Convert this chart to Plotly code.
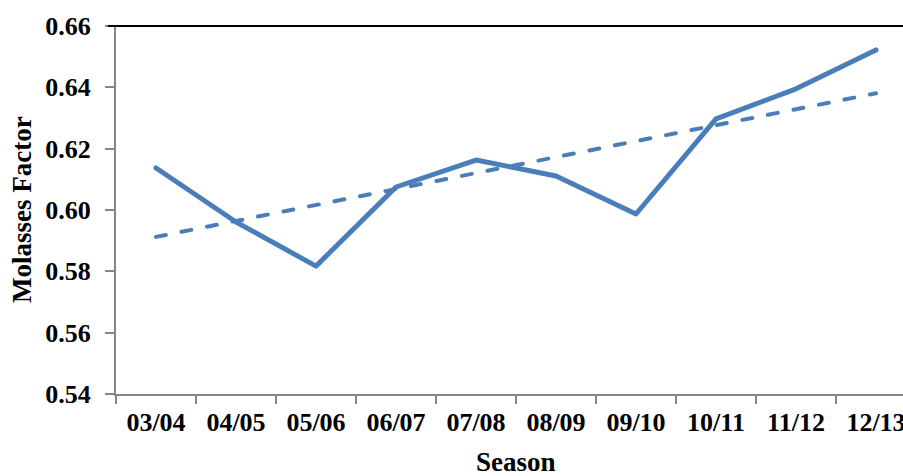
import numpy as np
import plotly.graph_objects as go

seasons = ["03/04", "04/05", "05/06", "06/07", "07/08", "08/09", "09/10", "10/11", "11/12", "12/13"]
molasses_factor = [0.6137, 0.5961, 0.5817, 0.6075, 0.6163, 0.6111, 0.5987, 0.6297, 0.6395, 0.6522]

idx = np.arange(1, len(seasons) + 1)
slope, intercept = np.polyfit(idx, molasses_factor, 1)
trend = list(slope * idx + intercept)

BLUE = "#4A7EBB"
GRAY = "#868686"
FONT = "Liberation Serif"

fig = go.Figure()
fig.add_trace(go.Scatter(x=seasons, y=molasses_factor, mode="lines",
                         line=dict(color=BLUE, width=5), showlegend=False))
fig.add_trace(go.Scatter(x=seasons, y=trend, mode="lines",
                         line=dict(color=BLUE, width=4, dash="10px,16px"), showlegend=False))

W, H = 903, 476
L, T, B, R = 116, 26, 82, 0
plot_w = W - L - R
plot_h = H - T - B
cat_w = 80
x_end = -0.5 + plot_w / cat_w

fig.update_layout(
    width=W, height=H,
    margin=dict(l=L, r=R, t=T, b=B, autoexpand=False),
    paper_bgcolor="white", plot_bgcolor="white",
    font=dict(family=FONT, color="black"),
    xaxis=dict(
        type="category", range=[-0.5, x_end], showgrid=False, zeroline=False,
        showline=True, linecolor=GRAY, linewidth=2,
        ticks="outside", tickson="boundaries", ticklen=8, tickcolor=GRAY, tickwidth=1.5,
        tickfont=dict(family=FONT, size=26, color="black", weight="bold"),
        ticklabelstandoff=4,
    ),
    yaxis=dict(
        range=[0.54, 0.66], dtick=0.02, tick0=0.54, tickformat=".2f",
        showgrid=False, zeroline=False,
        showline=True, linecolor=GRAY, linewidth=2,
        ticks="outside", ticklen=9, tickcolor=GRAY, tickwidth=1.5,
        tickfont=dict(family=FONT, size=26, color="black", weight="bold"),
        ticklabelstandoff=9,
    ),
    annotations=[
        dict(text="<b>Molasses Factor</b>", xref="paper", yref="paper",
             x=-(L - 22) / plot_w, y=0.5, textangle=-90, showarrow=False,
             xanchor="center", yanchor="middle",
             font=dict(family=FONT, size=27, color="black")),
        dict(text="<b>Season</b>", xref="paper", yref="paper",
             x=(cat_w * 5) / plot_w, y=-68 / plot_h,
             showarrow=False, xanchor="center", yanchor="middle",
             font=dict(family=FONT, size=27, color="black")),
    ],
    shapes=[
        dict(type="line", xref="paper", yref="paper", x0=-8 / plot_w, x1=1, y0=1, y1=1,
             line=dict(color="black", width=2)),
    ],
)

fig.write_html(
    "out.html",
    config={"displayModeBar": False},
    post_script=(
        "document.body.style.margin='0';document.body.style.overflow='hidden';"
        "document.querySelectorAll('.scatterlayer path.js-line').forEach(function(p){"
        "p.style.strokeLinecap='round';p.style.strokeLinejoin='round';});"
    ),
)
